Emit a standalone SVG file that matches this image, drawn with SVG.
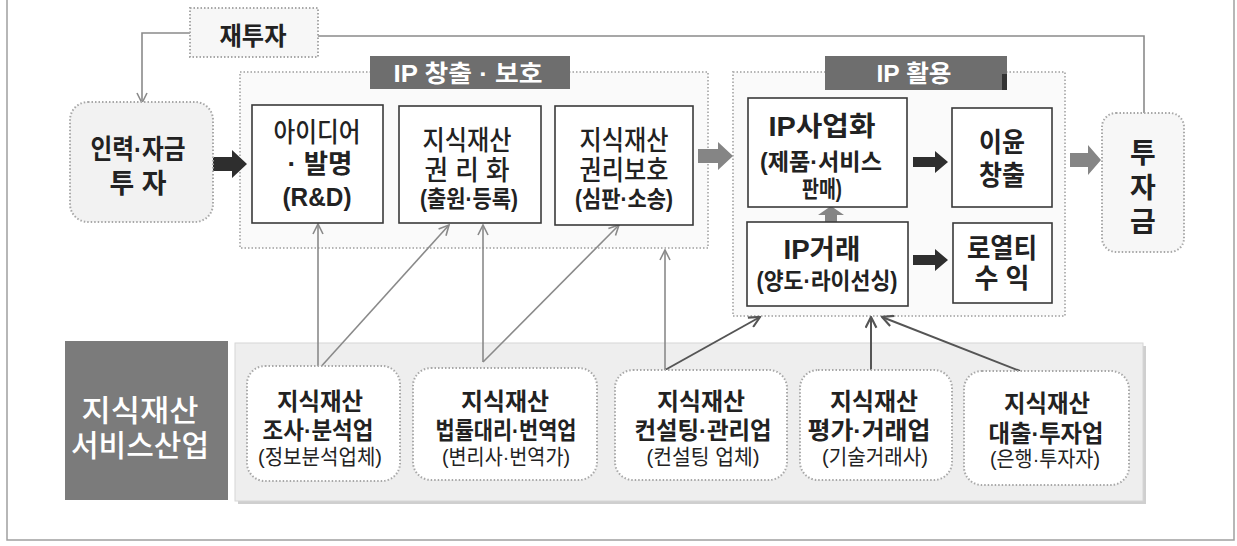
<svg xmlns="http://www.w3.org/2000/svg" width="1237" height="546" viewBox="0 0 1237 546">
<defs>
<style>
text,tspan{font-family:"Liberation Sans","Noto Sans CJK KR",sans-serif;text-anchor:middle;dominant-baseline:central;}
.b{font-weight:bold;}
.m{font-weight:500;}
.r{font-weight:normal;}
.w{fill:#ffffff;}
.dk{fill:#222222;}
.region{fill:#fafafa;stroke:#b5b5b5;stroke-width:2;stroke-dasharray:1.5 2;}
.dot{stroke:#a8a8a8;stroke-width:2;stroke-dasharray:1.5 2;}
.box{fill:#ffffff;stroke:#3a3a3a;stroke-width:1.6;}
.label{fill:#6e6e6e;}
.con{fill:none;stroke:#8a8a8a;stroke-width:1.6;}
.con2{fill:none;stroke:#555555;stroke-width:2;}
.garrow{fill:#858585;}
.barrow{fill:#2e2e2e;}
</style>
<marker id="ah" viewBox="0 0 12 12" refX="11" refY="6" markerWidth="12" markerHeight="12" markerUnits="userSpaceOnUse" orient="auto">
<path d="M1,1 L11,6 L1,11" fill="none" stroke="#8a8a8a" stroke-width="1.6"/>
</marker>
<marker id="ah2" viewBox="0 0 12 12" refX="11" refY="6" markerWidth="13" markerHeight="13" markerUnits="userSpaceOnUse" orient="auto">
<path d="M1,1 L11,6 L1,11" fill="none" stroke="#555555" stroke-width="2"/>
</marker>
</defs>
<rect x="0" y="0" width="1237" height="546" fill="#ffffff"/>
<path d="M7,0 V540 H1234 V0" fill="none" stroke="#a0a0a0" stroke-width="1.5"/>

<g id="region-ip-create">
<rect class="region" x="240" y="72" width="468" height="176"/>
<rect class="label" x="370" y="56" width="200" height="33"/>
<text class="b w" x="468" y="73" font-size="24" textLength="149" lengthAdjust="spacingAndGlyphs">IP 창출 · 보호</text>
</g>
<g id="region-ip-use">
<rect class="region" x="733" y="72" width="332" height="244"/>
<rect class="label" x="825" y="56" width="182" height="34"/>
<rect x="1002" y="74" width="5" height="16" fill="#333333"/>
<text class="b w" x="914" y="73" font-size="24" textLength="75" lengthAdjust="spacingAndGlyphs">IP 활용</text>
</g>
<g id="service-panel">
<rect x="238" y="346" width="908" height="158" fill="#cfcfcf"/>
<rect x="235" y="343" width="908" height="158" fill="#eeeeee" stroke="#d6d6d6" stroke-width="1"/>
</g>

<g id="connectors">
<path class="con" d="M190,33 H142 V103" marker-end="url(#ah)"/>
<path class="con" d="M318,36 H1144 V113" stroke="#909090" stroke-width="2"/>
<path class="con" d="M318,370 V224" marker-end="url(#ah)"/>
<path class="con" d="M318,370 L449,225" marker-end="url(#ah)"/>
<path class="con" d="M483,362 V225" marker-end="url(#ah)"/>
<path class="con" d="M483,362 L619,225" marker-end="url(#ah)"/>
<path class="con" d="M665,370 V250" marker-end="url(#ah)"/>
<path class="con2" d="M665,370 L760,317" marker-end="url(#ah2)"/>
<path class="con2" d="M871,370 V317" marker-end="url(#ah2)"/>
<path class="con2" d="M1020,371 L882,317" marker-end="url(#ah2)"/>
<path class="barrow" d="M213,157 H232 V150 L247,164 L232,178 V171 H213 Z"/>
<path class="garrow" d="M698,149 H718 V142 L733,156 L718,170 V163 H698 Z"/>
<path class="garrow" d="M825,222 V215 H818 L831,206 L844,215 H837 V222 Z"/>
<path class="barrow" d="M913,157 H935 V151 L948,162 L935,173 V167 H913 Z"/>
<path class="barrow" d="M913,255 H935 V249 L948,260 L935,271 V265 H913 Z"/>
<path class="garrow" d="M1070,153 H1088 V145 L1101,160 L1088,175 V167 H1070 Z"/>
</g>

<g id="reinvest">
<rect class="dot" x="190" y="8" width="128" height="49" fill="#f7f7f7"/>
<text class="b dk" x="253" y="36" font-size="25" textLength="67" lengthAdjust="spacingAndGlyphs">재투자</text>
</g>
<g id="input">
<rect class="dot" x="70" y="102" width="143" height="120" rx="18" fill="#f2f2f2"/>
<text class="b dk" font-size="27"><tspan x="138" y="150" textLength="95" lengthAdjust="spacingAndGlyphs">인력·자금</tspan><tspan x="138" y="184" textLength="57" lengthAdjust="spacingAndGlyphs">투 자</tspan></text>
</g>
<g id="idea">
<rect class="box" x="252" y="105" width="131" height="118"/>
<text class="dk" font-size="26"><tspan class="m" x="317" y="133" font-size="27" textLength="87" lengthAdjust="spacingAndGlyphs">아이디어</tspan><tspan class="b" x="320" y="164" textLength="65" lengthAdjust="spacingAndGlyphs">· 발명</tspan><tspan class="b" x="317" y="197" textLength="69" lengthAdjust="spacingAndGlyphs">(R&amp;D)</tspan></text>
</g>
<g id="rights">
<rect class="box" x="399" y="106" width="142" height="117"/>
<text class="dk" font-size="27"><tspan class="m" x="467" y="141" textLength="89" lengthAdjust="spacingAndGlyphs">지식재산</tspan><tspan class="m" x="467" y="171" textLength="85" lengthAdjust="spacingAndGlyphs">권 리 화</tspan><tspan class="b" x="469" y="199" font-size="23" textLength="98" lengthAdjust="spacingAndGlyphs">(출원·등록)</tspan></text>
</g>
<g id="protect">
<rect class="box" x="555" y="106" width="138" height="119"/>
<text class="dk" font-size="27"><tspan class="m" x="624" y="141" textLength="89" lengthAdjust="spacingAndGlyphs">지식재산</tspan><tspan class="m" x="624" y="171" textLength="89" lengthAdjust="spacingAndGlyphs">권리보호</tspan><tspan class="b" x="624" y="199" font-size="23" textLength="98" lengthAdjust="spacingAndGlyphs">(심판·소송)</tspan></text>
</g>
<g id="commercial">
<rect class="box" x="748" y="98" width="159" height="109"/>
<text class="b dk" font-size="23"><tspan x="822" y="127" font-size="27" textLength="107" lengthAdjust="spacingAndGlyphs">IP사업화</tspan><tspan x="821" y="162" textLength="122" lengthAdjust="spacingAndGlyphs">(제품·서비스</tspan><tspan x="822" y="189" textLength="40" lengthAdjust="spacingAndGlyphs">판매)</tspan></text>
</g>
<g id="trade">
<rect class="box" x="747" y="222" width="161" height="84"/>
<text class="b dk" font-size="23"><tspan x="822" y="250" font-size="27" textLength="77" lengthAdjust="spacingAndGlyphs">IP거래</tspan><tspan x="827" y="281" textLength="141" lengthAdjust="spacingAndGlyphs">(양도·라이선싱)</tspan></text>
</g>
<g id="profit">
<rect class="box" x="952" y="108" width="100" height="99"/>
<text class="b dk" font-size="27"><tspan x="1002" y="143" textLength="46" lengthAdjust="spacingAndGlyphs">이윤</tspan><tspan x="1002" y="176" textLength="46" lengthAdjust="spacingAndGlyphs">창출</tspan></text>
</g>
<g id="royalty">
<rect class="box" x="953" y="223" width="99" height="80"/>
<text class="b dk" font-size="27"><tspan x="1002" y="249" textLength="70" lengthAdjust="spacingAndGlyphs">로열티</tspan><tspan x="1002" y="279" textLength="55" lengthAdjust="spacingAndGlyphs">수 익</tspan></text>
</g>
<g id="fund">
<rect class="dot" x="1102" y="113" width="82" height="139" rx="14" fill="#f7f7f7"/>
<text class="b dk" font-size="28"><tspan x="1143" y="153">투</tspan><tspan x="1143" y="188">자</tspan><tspan x="1143" y="222">금</tspan></text>
</g>

<g id="service-title">
<rect x="65" y="341" width="163" height="159" fill="#7b7b7b"/>
<text class="m w" font-size="30"><tspan x="140" y="410" textLength="117" lengthAdjust="spacingAndGlyphs">지식재산</tspan><tspan x="140" y="445" textLength="138" lengthAdjust="spacingAndGlyphs">서비스산업</tspan></text>
</g>
<g id="svc-research">
<rect class="dot" x="247" y="366" width="153" height="115" rx="18" fill="#ffffff"/>
<text class="dk" font-size="24"><tspan class="b" x="320" y="401" textLength="86" lengthAdjust="spacingAndGlyphs">지식재산</tspan><tspan class="b" x="318" y="430" textLength="111" lengthAdjust="spacingAndGlyphs">조사·분석업</tspan><tspan class="r" x="320" y="456" font-size="21" textLength="124" lengthAdjust="spacingAndGlyphs">(정보분석업체)</tspan></text>
</g>
<g id="svc-legal">
<rect class="dot" x="413" y="368" width="184" height="112" rx="18" fill="#ffffff"/>
<text class="dk" font-size="24"><tspan class="b" x="505" y="401" textLength="88" lengthAdjust="spacingAndGlyphs">지식재산</tspan><tspan class="b" x="506" y="430" textLength="141" lengthAdjust="spacingAndGlyphs">법률대리·번역업</tspan><tspan class="r" x="506" y="456" font-size="21" textLength="128" lengthAdjust="spacingAndGlyphs">(변리사·번역가)</tspan></text>
</g>
<g id="svc-consult">
<rect class="dot" x="615" y="370" width="172" height="110" rx="18" fill="#ffffff"/>
<text class="dk" font-size="24"><tspan class="b" x="701" y="401" textLength="88" lengthAdjust="spacingAndGlyphs">지식재산</tspan><tspan class="b" x="703" y="430" textLength="137" lengthAdjust="spacingAndGlyphs">컨설팅·관리업</tspan><tspan class="r" x="703" y="456" font-size="21" textLength="113" lengthAdjust="spacingAndGlyphs">(컨설팅 업체)</tspan></text>
</g>
<g id="svc-valuation">
<rect class="dot" x="800" y="370" width="152" height="110" rx="18" fill="#ffffff"/>
<text class="dk" font-size="24"><tspan class="b" x="874" y="401" textLength="88" lengthAdjust="spacingAndGlyphs">지식재산</tspan><tspan class="b" x="869" y="430" textLength="123" lengthAdjust="spacingAndGlyphs">평가·거래업</tspan><tspan class="r" x="875" y="456" font-size="21" textLength="106" lengthAdjust="spacingAndGlyphs">(기술거래사)</tspan></text>
</g>
<g id="svc-finance">
<rect class="dot" x="964" y="371" width="165" height="114" rx="18" fill="#ffffff"/>
<text class="dk" font-size="24"><tspan class="b" x="1047" y="403" textLength="86" lengthAdjust="spacingAndGlyphs">지식재산</tspan><tspan class="b" x="1046" y="433" textLength="115" lengthAdjust="spacingAndGlyphs">대출·투자업</tspan><tspan class="r" x="1045" y="458" font-size="21" textLength="110" lengthAdjust="spacingAndGlyphs">(은행·투자자)</tspan></text>
</g>
</svg>
